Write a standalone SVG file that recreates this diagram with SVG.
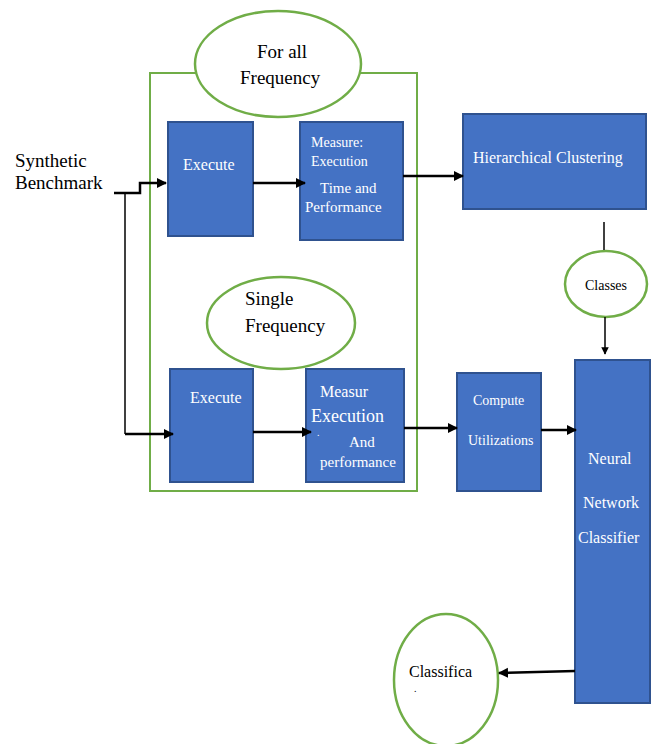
<svg xmlns="http://www.w3.org/2000/svg" width="652" height="744" viewBox="0 0 652 744" font-family="'Liberation Serif', 'DejaVu Serif', serif">
<defs>
<marker id="ah" viewBox="0 0 10 10" refX="9" refY="5" markerWidth="4" markerHeight="4.5" orient="auto" markerUnits="strokeWidth">
<path d="M0,0 L10,5 L0,10 z" fill="#000"/>
</marker>
<marker id="ah2" viewBox="0 0 10 10" refX="9" refY="5" markerWidth="6" markerHeight="5" orient="auto" markerUnits="strokeWidth">
<path d="M0,0 L10,5 L0,10 z" fill="#000"/>
</marker>
</defs>
<style>
.box{fill:#4472C4;stroke:#2F528F;stroke-width:2;}
.ell{fill:#fff;stroke:#70AD47;stroke-width:2.5;}
.w{fill:#fff;font-size:15px;}
.b{fill:#000;font-size:19px;}
.c{stroke:#000;stroke-width:2.5;fill:none;}
.t{stroke:#000;stroke-width:1.5;fill:none;}
</style>
<rect width="652" height="744" fill="#fff"/>
<rect x="150" y="73" width="267" height="418" fill="none" stroke="#70AD47" stroke-width="2"/>

<g id="synthetic">
<text class="b" x="15" y="167">Synthetic</text>
<text class="b" x="15" y="189">Benchmark</text>
</g>
<g id="forall">
<ellipse class="ell" cx="278" cy="64" rx="83" ry="53"/>
<text class="b" x="257" y="58">For all</text>
<text class="b" x="240" y="84">Frequency</text>
</g>
<g id="execute1">
<rect class="box" x="168" y="122" width="85" height="114"/>
<text class="w" x="183" y="170" style="font-size:16px">Execute</text>
</g>
<g id="measure1">
<rect class="box" x="300" y="122" width="103" height="118"/>
<text class="w" x="311" y="147" style="font-size:14px">Measure:</text>
<text class="w" x="311" y="166" style="font-size:14px">Execution</text>
<text class="w" x="320" y="193">Time and</text>
<text class="w" x="305" y="212">Performance</text>
</g>
<g id="hier">
<rect class="box" x="463" y="114" width="183" height="95"/>
<text class="w" x="473" y="163" style="font-size:16px">Hierarchical Clustering</text>
</g>
<g id="classes">
<ellipse class="ell" cx="606" cy="284" rx="41" ry="33"/>
<text class="b" x="606" y="290" text-anchor="middle" style="font-size:14px">Classes</text>
</g>
<g id="single">
<ellipse class="ell" cx="281" cy="323" rx="74" ry="46"/>
<text class="b" x="245" y="305">Single</text>
<text class="b" x="245" y="332">Frequency</text>
</g>
<g id="execute2">
<rect class="box" x="170" y="369" width="83" height="113"/>
<text class="w" x="190" y="403" style="font-size:16px">Execute</text>
</g>
<g id="measure2">
<rect class="box" x="306" y="369" width="98" height="113"/>
<text class="w" x="320" y="397" style="font-size:16px">Measur</text>
<text class="w" x="311" y="422" style="font-size:18px">Execution</text>
<text class="w" x="317" y="436" style="font-size:10px">.</text>
<text class="w" x="349" y="447">And</text>
<text class="w" x="320" y="467">performance</text>
</g>
<g id="compute">
<rect class="box" x="457" y="373" width="84" height="118"/>
<text class="w" x="473" y="405" style="font-size:14px">Compute</text>
<text class="w" x="468" y="445" style="font-size:14px">Utilizations</text>
</g>
<g id="neural">
<rect class="box" x="575" y="360" width="75" height="343"/>
<text class="w" x="588" y="464" style="font-size:16px">Neural</text>
<text class="w" x="583" y="508" style="font-size:16px">Network</text>
<text class="w" x="578" y="543" style="font-size:16px">Classifier</text>
</g>
<g id="classifica">
<ellipse class="ell" cx="446" cy="680" rx="52" ry="66"/>
<text class="b" x="409" y="677" style="font-size:16px">Classifica</text>
<text class="b" x="414" y="692" style="font-size:10px">.</text>
</g>

<g id="connectors">
<path class="c" d="M114,193 H140 V183 H166" marker-end="url(#ah)"/>
<path class="t" d="M125,193 V434"/>
<path class="c" d="M125,434 H173" marker-end="url(#ah)"/>
<path class="c" d="M253,183 H305" marker-end="url(#ah)"/>
<path class="c" d="M403,176 H463" marker-end="url(#ah)"/>
<path class="t" d="M604,222 V250"/>
<path class="t" d="M605,317 V354" marker-end="url(#ah2)"/>
<path class="c" d="M253,432 H311" marker-end="url(#ah)"/>
<path class="c" d="M404,428 H457" marker-end="url(#ah)"/>
<path class="c" d="M541,430 H576" marker-end="url(#ah)"/>
<path class="c" d="M575,671 L499,673" marker-end="url(#ah)"/>
</g>
</svg>
